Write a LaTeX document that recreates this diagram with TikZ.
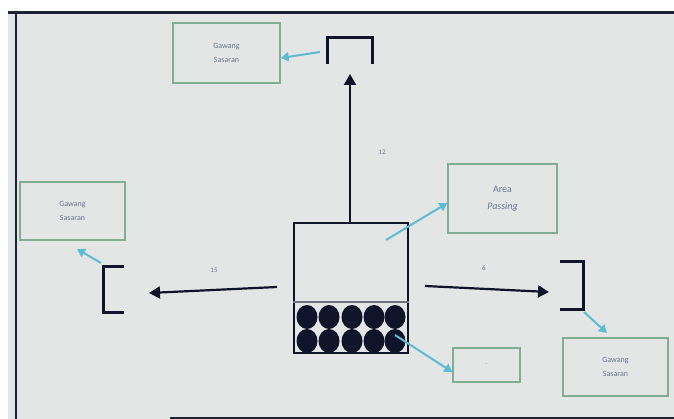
\documentclass[tikz,border=0pt]{standalone}
\usepackage{fontspec}
\setmainfont{Carlito}
\usetikzlibrary{arrows.meta}
\definecolor{bg}{HTML}{E4E6E6}
\definecolor{frame}{HTML}{1C2333}
\definecolor{gbox}{HTML}{7FAE93}
\definecolor{cyanar}{HTML}{5CBCD6}
\definecolor{txt}{HTML}{6A7590}
\definecolor{ink}{HTML}{10142A}
\tikzset{
  gbox/.style={draw=gbox, line width=1.3pt, fill=bg, inner sep=0pt, align=center, font=\fontsize{8}{14}\selectfont, text=txt},
  blackarrow/.style={draw=ink, line width=2.2pt, -{Triangle[length=11pt,width=12pt]}},
  cyanarrow/.style={draw=cyanar, line width=2pt, -{Triangle[length=8pt,width=9pt]}},
  bracket/.style={draw=ink, line width=3pt},
  numlabel/.style={font=\fontsize{7}{8}\selectfont, text=txt},
  ball/.style={fill=ink, draw=none}
}
\begin{document}
\begin{tikzpicture}[x=1pt,y=-1pt]
\useasboundingbox (0,0) rectangle (674,419);
\fill[white] (0,0) rectangle (674,419);
\fill[bg] (8,12) rectangle (674,419);
\draw[frame, line width=2.5pt] (8,12.5) -- (674,12.5);
\draw[frame, line width=2.5pt] (16,12) -- (16,419);
\draw[frame, line width=2.5pt] (170,418) -- (674,418);

% boxes
\node[gbox, minimum width=107pt, minimum height=60pt] (topbox) at (226.5,53) {Gawang\\Sasaran};
\node[gbox, minimum width=105pt, minimum height=58pt] (leftbox) at (72.5,211) {Gawang\\Sasaran};
\node[gbox, minimum width=109pt, minimum height=69pt, font=\fontsize{10}{17}\selectfont] (passbox) at (502.5,198.5) {Area\\\textit{Passing}};
\node[gbox, minimum width=105pt, minimum height=58pt] (brbox) at (615.5,367) {Gawang\\Sasaran};
\node[gbox, minimum width=67pt, minimum height=34pt, font=\fontsize{5}{6}\selectfont] (smallbox) at (486.5,365) {-};

% central box
\node[draw=ink, line width=1.6pt, minimum width=114pt, minimum height=130pt, inner sep=0pt, fill=bg] (main) at (351,288) {};
\draw[draw=ink!60, line width=1.2pt] (main.west |- 0,302) coordinate (dl) -- (main.east |- 0,302) coordinate (dr);
\foreach \x [count=\i] in {307,329,352,374,395} {
  \fill[ball] (\x,317) ellipse (10.5 and 12);
  \fill[ball] (\x,341) ellipse (10.5 and 12);
}
\coordinate (ballend) at (395,335);

% brackets
\coordinate (tb1) at (327,64);
\coordinate (tb2) at (327,38);
\coordinate (tb3) at (372,38);
\coordinate (tb4) at (372,64);
\draw[bracket] (tb1) -- (tb2) -- (tb3) -- (tb4);
\coordinate (lb1) at (124,267);
\coordinate (lb2) at (103,267);
\coordinate (lb3) at (103,313);
\coordinate (lb4) at (124,313);
\draw[bracket] (lb1) -- (lb2) -- (lb3) -- (lb4);
\coordinate (rb1) at (560,262);
\coordinate (rb2) at (583,262);
\coordinate (rb3) at (583,310);
\coordinate (rb4) at (560,310);
\draw[bracket] (rb1) -- (rb2) -- (rb3) -- (rb4);

% black arrows
\coordinate (upend) at (350,74);
\draw[blackarrow] (main.north -| 350,0) -- (upend);
\coordinate (lstart) at (277,287);
\coordinate (lend) at (149,293);
\draw[blackarrow] (lstart) -- (lend);
\coordinate (rstart) at (425,286);
\coordinate (rend) at (549,292);
\draw[blackarrow] (rstart) -- (rend);

% labels
\node[numlabel] (l12) at (382,152) {12};
\node[numlabel] (l15) at (214,270) {15};
\node[numlabel] (l6) at (484,268) {6};

% cyan arrows
\draw[cyanarrow] (320,52) -- (topbox.east |- 0,58);
\draw[cyanarrow] (lb2) ++(-2,-4) -- (77,249);
\draw[cyanarrow] (386,240) -- (passbox.west |- 0,203);
\draw[cyanarrow] (rb3) ++(1,2) -- (607,333);
\draw[cyanarrow] (ballend) -- (smallbox.west |- 0,372);
\end{tikzpicture}
\end{document}
